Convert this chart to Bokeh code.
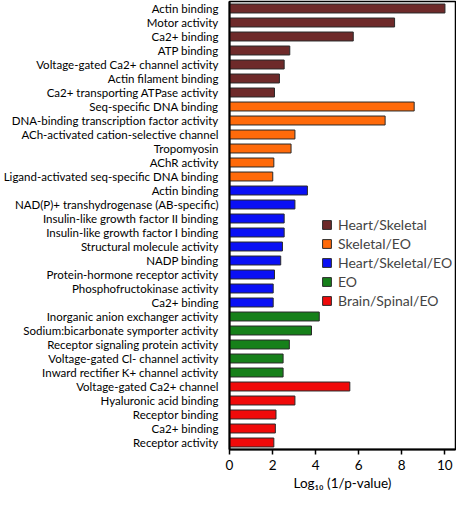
from bokeh.plotting import figure
from bokeh.models import FixedTicker, Range1d, Legend, LegendItem, ColumnDataSource
from bokeh.embed import file_html
from bokeh.resources import INLINE

labels = [
    "Actin binding", "Motor activity", "Ca2+ binding", "ATP binding",
    "Voltage-gated Ca2+ channel activity", "Actin filament binding",
    "Ca2+ transporting ATPase activity",
    "Seq-specific DNA binding", "DNA-binding transcription factor activity",
    "ACh-activated cation-selective channel", "Tropomyosin", "AChR activity",
    "Ligand-activated seq-specific DNA binding",
    "Actin binding", "NAD(P)+ transhydrogenase (AB-specific)",
    "Insulin-like growth factor II binding", "Insulin-like growth factor I binding",
    "Structural molecule activity", "NADP binding",
    "Protein-hormone receptor activity", "Phosphofructokinase activity", "Ca2+ binding",
    "Inorganic anion exchanger activity", "Sodium:bicarbonate symporter activity",
    "Receptor signaling protein activity", "Voltage-gated Cl- channel activity",
    "Inward rectifier K+ channel activity",
    "Voltage-gated Ca2+ channel", "Hyaluronic acid binding", "Receptor binding",
    "Ca2+ binding", "Receptor activity",
]
values = [
    10.01, 7.67, 5.75, 2.80, 2.54, 2.32, 2.09,
    8.58, 7.23, 3.04, 2.86, 2.06, 2.01,
    3.62, 3.04, 2.54, 2.54, 2.46, 2.38, 2.09, 2.03, 2.03,
    4.17, 3.81, 2.78, 2.49, 2.49,
    5.59, 3.04, 2.16, 2.13, 2.06,
]
groups = (["Heart/Skeletal"] * 7 + ["Skeletal/EO"] * 6 + ["Heart/Skeletal/EO"] * 9
          + ["EO"] * 5 + ["Brain/Spinal/EO"] * 5)
group_names = ["Heart/Skeletal", "Skeletal/EO", "Heart/Skeletal/EO", "EO", "Brain/Spinal/EO"]
group_colors = ["#6E2A2A", "#FF6A0A", "#0A10F5", "#16801A", "#F00A0A"]
x_ticks = [0, 2, 4, 6, 8, 10]

n = len(labels)
ypos = [n - 1 - i for i in range(n)]

p = figure(width=456, height=493, output_backend="svg", toolbar_location=None,
           x_range=Range1d(0, 10.5), y_range=Range1d(-0.5, n - 0.5),
           min_border_left=221, min_border_right=1, min_border_top=1, min_border_bottom=0)

items = []
for g, c in zip(group_names, group_colors):
    idx = [i for i in range(n) if groups[i] == g]
    src = ColumnDataSource(dict(y=[ypos[i] for i in idx], v=[values[i] for i in idx]))
    r = p.hbar(y="y", right="v", left=0, height=0.64, source=src,
               fill_color=c, line_color="#2a2a2a", line_width=1)
    items.append(LegendItem(label=g, renderers=[r]))

legend = Legend(items=items, location=(92, 140), background_fill_alpha=0,
                border_line_color=None, glyph_width=11, glyph_height=11,
                label_text_font="Lato", label_text_font_size="14px",
                label_height=17, spacing=2, label_standoff=6, padding=0, margin=0)
p.add_layout(legend)

p.yaxis.ticker = FixedTicker(ticks=ypos)
p.yaxis.major_label_overrides = {ypos[i]: labels[i] for i in range(n)}
p.yaxis.major_tick_line_color = None
p.yaxis.minor_tick_line_color = None
p.yaxis.major_label_text_font = "Lato"
p.yaxis.major_label_text_font_size = "11.5px"
p.yaxis.major_label_text_color = "black"
p.yaxis.major_label_standoff = 5
p.yaxis.axis_line_color = "black"
p.yaxis.axis_line_width = 2

p.xaxis.ticker = FixedTicker(ticks=x_ticks)
p.xaxis.minor_tick_line_color = None
p.xaxis.major_tick_out = 5
p.xaxis.major_tick_in = 0
p.xaxis.major_tick_line_color = "black"
p.xaxis.major_tick_line_width = 1.5
p.xaxis.axis_line_color = "black"
p.xaxis.axis_line_width = 2
p.xaxis.major_label_text_font = "Lato"
p.xaxis.major_label_text_font_size = "13.5px"
p.xaxis.major_label_text_color = "black"
p.xaxis.major_label_standoff = 5
p.xaxis.axis_label = "Log₁₀ (1/p-value)"
p.xaxis.axis_label_text_font = "Lato"
p.xaxis.axis_label_text_font_style = "normal"
p.xaxis.axis_label_text_font_size = "13.5px"
p.xaxis.axis_label_text_color = "black"
p.xaxis.axis_label_standoff = 2

p.xgrid.grid_line_color = None
p.ygrid.grid_line_color = None
p.outline_line_color = "black"
p.outline_line_width = 1.5
p.outline_line_alpha = 1

open("out.html", "w").write(file_html(p, INLINE))
